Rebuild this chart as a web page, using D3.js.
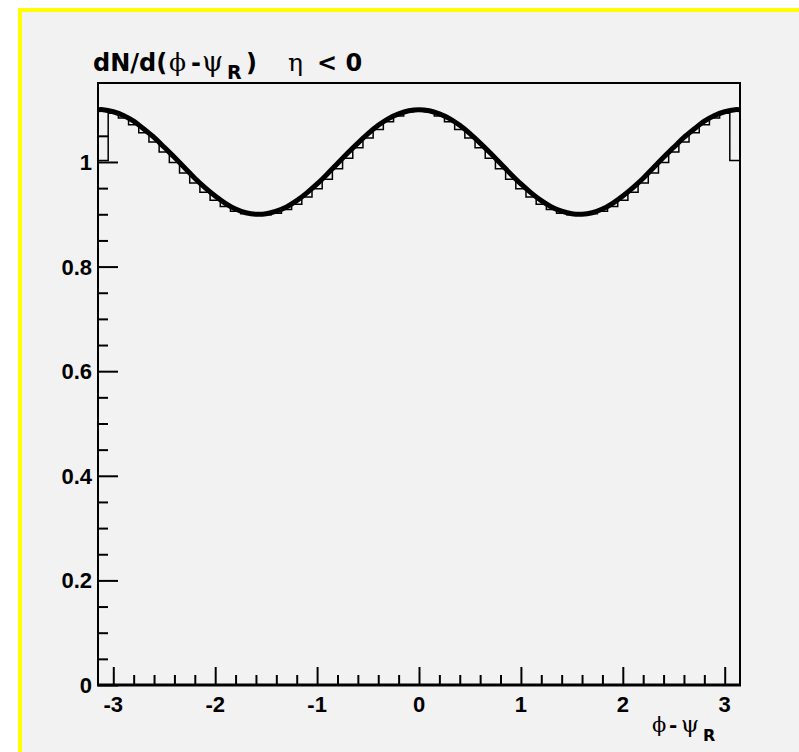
<!DOCTYPE html>
<html>
<head>
<meta charset="utf-8">
<script src="https://cdn.jsdelivr.net/npm/d3@7"></script>
<style>
  html, body { margin: 0; padding: 0; background: #ffffff; }
  svg { display: block; }
  .sans { font-family: "DejaVu Sans", Arial, Helvetica, sans-serif; font-weight: bold; }
  .tick { font-family: "Liberation Sans", Arial, Helvetica, sans-serif; font-weight: bold; }
  .greek { font-family: "DejaVu Serif", "Liberation Serif", serif; font-weight: normal; }
</style>
</head>
<body>
<svg id="chart" width="799" height="752"></svg>
<script>
// Histogram of dN/d(phi - psi_R): 63 bins of width 0.1 spanning [-3.15, 3.15]
const binLow = -3.15;
const binWidth = 0.1;
const histValues = [
  1.003, 1.093, 1.084, 1.071, 1.056, 1.038, 1.019, 0.999, 0.979, 0.960,
  0.942, 0.927, 0.915, 0.906, 0.901, 0.899, 0.899, 0.902, 0.909, 0.919,
  0.933, 0.949, 0.967, 0.987, 1.007, 1.027, 1.046, 1.062, 1.077, 1.088,
  1.096, 1.098, 1.096, 1.088, 1.077, 1.062, 1.046, 1.027, 1.007, 0.987,
  0.967, 0.949, 0.933, 0.919, 0.909, 0.902, 0.899, 0.899, 0.901, 0.906,
  0.915, 0.927, 0.942, 0.960, 0.979, 0.999, 1.019, 1.038, 1.056, 1.071,
  1.084, 1.093, 1.003
];

// Fitted curve, sampled at -pi, -3.1, -3.0, ..., 3.1, pi
const curveValues = [
  1.100,
  1.100, 1.096, 1.089, 1.078, 1.063, 1.047, 1.028, 1.009, 0.989, 0.969,
  0.951, 0.935, 0.921, 0.910, 0.903, 0.900, 0.901, 0.906, 0.914, 0.926,
  0.941, 0.958, 0.977, 0.997, 1.017, 1.036, 1.054, 1.070, 1.083, 1.092,
  1.098, 1.100, 1.098, 1.092, 1.083, 1.070, 1.054, 1.036, 1.017, 0.997,
  0.977, 0.958, 0.941, 0.926, 0.914, 0.906, 0.901, 0.900, 0.903, 0.910,
  0.921, 0.935, 0.951, 0.969, 0.989, 1.009, 1.028, 1.047, 1.063, 1.078,
  1.089, 1.096, 1.100,
  1.100
];

const xMajorTicks = [-3, -2, -1, 0, 1, 2, 3];
const xTickLabels = ["-3", "-2", "-1", "0", "1", "2", "3"];
const yMajorTicks = [0, 0.2, 0.4, 0.6, 0.8, 1];
const yTickLabels = ["0", "0.2", "0.4", "0.6", "0.8", "1"];

const xDomain = [-3.15, 3.15];
const yDomain = [0, 1.151];

const svg = d3.select("#chart");

// Canvas background with yellow highlight border
svg.append("rect")
  .attr("x", 20).attr("y", 10)
  .attr("width", 800).attr("height", 760)
  .attr("fill", "#f2f2f2")
  .attr("stroke", "#ffff00")
  .attr("stroke-width", 4);

const frame = { left: 98, right: 740, top: 83, bottom: 685 };

const x = d3.scaleLinear().domain(xDomain).range([frame.left, frame.right]);
const y = d3.scaleLinear().domain(yDomain).range([frame.bottom, frame.top]);

// Frame box
svg.append("rect")
  .attr("x", frame.left).attr("y", frame.top)
  .attr("width", frame.right - frame.left)
  .attr("height", frame.bottom - frame.top)
  .attr("fill", "none")
  .attr("stroke", "#000")
  .attr("stroke-width", 2);

// Histogram outline (steps)
const histPoints = [];
histValues.forEach((v, i) => {
  const lo = binLow + i * binWidth;
  histPoints.push([lo, v], [lo + binWidth, v]);
});
const stepLine = d3.line().x(d => x(d[0])).y(d => y(d[1]));
svg.append("path")
  .attr("d", stepLine(histPoints))
  .attr("fill", "none")
  .attr("stroke", "#000")
  .attr("stroke-width", 1.5);

// Fitted curve
const curvePhi = [-Math.PI].concat(d3.range(-31, 32).map(k => k / 10)).concat([Math.PI]);
const curvePts = curvePhi.map((p, i) => [p, curveValues[i]]);
const smooth = d3.line().x(d => x(d[0])).y(d => y(d[1])).curve(d3.curveCatmullRom);
svg.append("path")
  .attr("d", smooth(curvePts))
  .attr("fill", "none")
  .attr("stroke", "#000")
  .attr("stroke-width", 5)
  .attr("stroke-linecap", "butt");

// X axis: major + minor ticks pointing up into the frame
const xMinor = d3.range(-32, 33, 2).map(k => k / 10)
  .filter(v => v > xDomain[0] && v < xDomain[1] && Math.abs(v - Math.round(v)) > 1e-6);
const xAxisMinor = d3.axisTop(x).tickValues(xMinor).tickSize(10).tickFormat("");
const xAxisMajor = d3.axisTop(x).tickValues(xMajorTicks).tickSize(18).tickFormat("");
[xAxisMinor, xAxisMajor].forEach(ax => {
  const g = svg.append("g").attr("transform", `translate(0,${frame.bottom})`).call(ax);
  g.select(".domain").remove();
  g.selectAll("line").attr("stroke", "#000").attr("stroke-width", 2);
});
// Thick bottom axis line
svg.append("line")
  .attr("x1", frame.left - 1).attr("x2", frame.right + 1)
  .attr("y1", frame.bottom).attr("y2", frame.bottom)
  .attr("stroke", "#000").attr("stroke-width", 3);

svg.append("g").selectAll("text")
  .data(xMajorTicks)
  .join("text")
  .attr("class", "tick")
  .attr("x", d => x(d))
  .attr("y", 712)
  .attr("text-anchor", "middle")
  .attr("font-size", 22)
  .text((d, i) => xTickLabels[i]);

// Y axis: major + minor ticks pointing right into the frame
const yMinor = d3.range(1, 23).map(k => k * 0.05)
  .filter(v => Math.abs(v * 5 - Math.round(v * 5)) > 1e-6);
const yAxisMinor = d3.axisRight(y).tickValues(yMinor).tickSize(10).tickFormat("");
const yAxisMajor = d3.axisRight(y).tickValues(yMajorTicks).tickSize(20).tickFormat("");
[yAxisMinor, yAxisMajor].forEach(ax => {
  const g = svg.append("g").attr("transform", `translate(${frame.left},0)`).call(ax);
  g.select(".domain").remove();
  g.selectAll("line").attr("stroke", "#000").attr("stroke-width", 2);
});

svg.append("g").selectAll("text")
  .data(yMajorTicks)
  .join("text")
  .attr("class", "tick")
  .attr("x", 92)
  .attr("y", d => y(d))
  .attr("dy", "0.36em")
  .attr("text-anchor", "end")
  .attr("font-size", 22)
  .text((d, i) => yTickLabels[i]);

// Title: dN/d(phi-psi_R)   eta < 0
const title = svg.append("g");
const tBase = 71;
title.append("text").attr("class", "sans").attr("x", 93).attr("y", tBase)
  .attr("font-size", 24).text("dN/d(");
title.append("text").attr("class", "greek").attr("x", 169).attr("y", tBase)
  .attr("font-size", 25).text("ϕ");
title.append("text").attr("class", "sans").attr("x", 191).attr("y", tBase)
  .attr("font-size", 24).text("-");
title.append("text").attr("class", "greek").attr("x", 202).attr("y", tBase)
  .attr("font-size", 27).text("ψ");
title.append("text").attr("class", "sans").attr("x", 227).attr("y", tBase + 8)
  .attr("font-size", 19).text("R");
title.append("text").attr("class", "sans").attr("x", 246).attr("y", tBase)
  .attr("font-size", 24).text(")");
title.append("text").attr("class", "greek").attr("x", 288).attr("y", tBase)
  .attr("font-size", 25).text("η");
title.append("text").attr("class", "sans").attr("x", 317).attr("y", tBase)
  .attr("font-size", 24).text("< 0");

// X axis title: phi-psi_R
const xt = svg.append("g");
const xBase = 732;
xt.append("text").attr("class", "greek").attr("x", 652).attr("y", xBase)
  .attr("font-size", 21).text("ϕ");
xt.append("text").attr("class", "sans").attr("x", 669).attr("y", xBase)
  .attr("font-size", 20).text("-");
xt.append("text").attr("class", "greek").attr("x", 681).attr("y", xBase)
  .attr("font-size", 23).text("ψ");
xt.append("text").attr("class", "sans").attr("x", 703).attr("y", xBase + 9)
  .attr("font-size", 16).text("R");
</script>
</body>
</html>
